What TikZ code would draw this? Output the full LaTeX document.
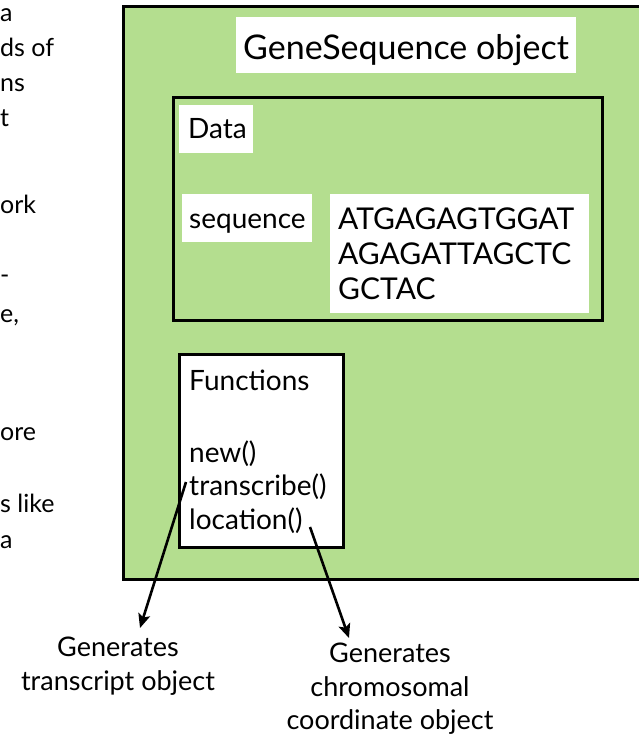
\documentclass[tikz,border=0pt]{standalone}
\usepackage{fontspec}
\setmainfont{Lato}
\usetikzlibrary{arrows.meta}
\definecolor{objgreen}{RGB}{180,222,143}
\tikzset{
  txt/.style={inner sep=0pt, anchor=base west, font=\fontsize{28}{32}\selectfont},
  seqtxt/.style={inner sep=0pt, anchor=base west, font=\fontsize{30}{34}\selectfont},
  frag/.style={inner sep=0pt, anchor=base west, font=\fontsize{25}{29}\selectfont},
  wbox/.style={fill=white, draw=none},
  frame/.style={draw=black, line width=3pt},
  gen/.style={-{Stealth[length=14pt,width=12pt,inset=3pt]}, line width=2.6pt},
  lbl/.style={inner sep=0pt, anchor=base, font=\fontsize{27}{31}\selectfont}
}
\begin{document}
\begin{tikzpicture}[x=1pt,y=-1pt]
\useasboundingbox (0,0) rectangle (639,738);
\fill[white] (0,0) rectangle (639,738);
\begin{scope}
\clip (0,0) rectangle (639,738);
% outer green object
\draw[frame, fill=objgreen] (123,7) rectangle (660,579);
% title
\fill[wbox] (236,17) rectangle (576,73);
\node[txt, font=\fontsize{34}{40}\selectfont] (title) at (243,60) {GeneSequence object};
% data box
\draw[frame] (173,98) rectangle (602,320);
\fill[wbox] (179,105) rectangle (253,153);
\node[txt] (data) at (188,139) {Data};
\fill[wbox] (182,194) rectangle (312,242);
\node[txt] (seqlbl) at (189,228) {sequence};
\fill[wbox] (330,194) rectangle (589,313);
\node[seqtxt] (s1) at (338,229) {ATGAGAGTGGAT};
\node[seqtxt] (s2) at (338,264) {AGAGATTAGCTC};
\node[seqtxt] (s3) at (338,299) {GCTAC};
% functions box
\draw[frame, fill=white] (179,354) rectangle (343,547);
\node[txt] (fun) at (189,390) {Functions};
\node[txt] (fnew) at (189,462) {new()};
\node[txt] (ftr) at (189,495) {transcribe()};
\node[txt] (floc) at (189,529) {location()};
% left cropped text fragments
\node[frag] (l1) at (0,22) {a};
\node[frag] (l2) at (0,57) {ds of};
\node[frag] (l3) at (0,92) {ns};
\node[frag] (l4) at (0,127) {t};
\node[frag] (l5) at (0,213) {ork};
\node[frag] (l6) at (0,283) {-};
\node[frag] (l7) at (0,322) {e,};
\node[frag] (l8) at (0,440) {ore};
\node[frag] (l9) at (0,512) {s like};
\node[frag] (l10) at (0,548) {a};
% bottom labels
\node[lbl] (g1a) at (118,656) {Generates};
\node[lbl] (g1b) at (118,690) {transcript object};
\node[lbl] (g2a) at (390,662) {Generates};
\node[lbl] (g2b) at (390,696) {chromosomal};
\node[lbl] (g2c) at (390,729) {coordinate object};
\end{scope}
% arrows
\coordinate (a1s) at (186,482);
\coordinate (a1e) at (140,628);
\coordinate (a2s) at (310,527);
\coordinate (a2e) at (349,638);
\draw[gen] (a1s) -- (a1e);
\draw[gen] (a2s) -- (a2e);
\end{tikzpicture}
\end{document}
